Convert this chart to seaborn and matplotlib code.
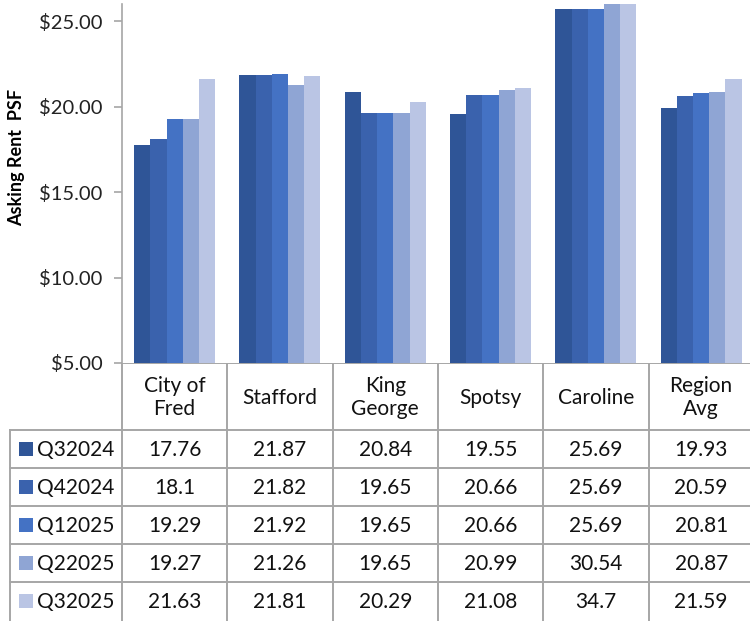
import pandas as pd
import numpy as np
import seaborn as sns
import matplotlib.pyplot as plt
from matplotlib.patches import Rectangle
from matplotlib.ticker import FuncFormatter

# data
areas = ["City of\nFred", "Stafford", "King\nGeorge", "Spotsy", "Caroline", "Region\nAvg"]
quarters = ["Q32024", "Q42024", "Q12025", "Q22025", "Q32025"]
q32024 = [17.76, 21.87, 20.84, 19.55, 25.69, 19.93]
q42024 = [18.1, 21.82, 19.65, 20.66, 25.69, 20.59]
q12025 = [19.29, 21.92, 19.65, 20.66, 25.69, 20.81]
q22025 = [19.27, 21.26, 19.65, 20.99, 30.54, 20.87]
q32025 = [21.63, 21.81, 20.29, 21.08, 34.7, 21.59]
table_text = [["17.76", "21.87", "20.84", "19.55", "25.69", "19.93"],
              ["18.1", "21.82", "19.65", "20.66", "25.69", "20.59"],
              ["19.29", "21.92", "19.65", "20.66", "25.69", "20.81"],
              ["19.27", "21.26", "19.65", "20.99", "30.54", "20.87"],
              ["21.63", "21.81", "20.29", "21.08", "34.7", "21.59"]]

colors = ["#2F5597", "#3A62AD", "#4472C4", "#8FA5D4", "#BAC5E4"]
grid_col = "#A6A6A6"
font = "Lato"
fs = 15

rows = []
for q, vals in zip(quarters, [q32024, q42024, q12025, q22025, q32025]):
    for a, v in zip(areas, vals):
        rows.append({"area": a, "quarter": q, "rent": v})
df = pd.DataFrame(rows)

W, H = 750, 621
fig = plt.figure(figsize=(W / 100, H / 100), dpi=100)

# layout in pixels
ax_l, ax_top, ax_bot = 122, 4, 363
col_w = 105.3
ax_r = ax_l + col_w * len(areas)
row_h = 38
head_bot = 430

ax = fig.add_axes([ax_l / W, 1 - ax_bot / H, (ax_r - ax_l) / W, (ax_bot - ax_top) / H])
sns.barplot(data=df, x="area", y="rent", hue="quarter", hue_order=quarters,
            palette=colors, saturation=1, width=0.77, gap=0, ax=ax,
            legend=False, errorbar=None)
ax.set_ylim(5, 26)
ax.set_xlim(-0.5, len(areas) - 0.5)
ax.set_yticks([5, 10, 15, 20, 25])
ax.yaxis.set_major_formatter(FuncFormatter(lambda v, p: f"${v:.2f}"))
ax.set_xticks([])
ax.set_xlabel("")
ax.set_ylabel("")
for s in ["top", "right", "bottom"]:
    ax.spines[s].set_visible(False)
ax.spines["left"].set_color(grid_col)
ax.spines["left"].set_linewidth(1.2)
ax.tick_params(axis="y", length=6, width=1.2, color=grid_col, pad=8,
               labelsize=14.5, labelcolor="#222222")
for t in ax.get_yticklabels():
    t.set_fontfamily(font)

fig.text(17 / W, 1 - 157 / H, "Asking Rent  PSF", rotation=90, ha="center",
         va="center", fontsize=13, fontweight="bold", family=font)

# data table drawn in pixel coordinates
tab = fig.add_axes([0, 0, 1, 1], zorder=-1)
tab.set_xlim(0, W)
tab.set_ylim(H, 0)
tab.axis("off")

lw = 1.4
tab.plot([ax_l, ax_r], [ax_bot, ax_bot], color=grid_col, lw=lw)
for i in range(len(areas) + 1):
    x = ax_l + i * col_w
    tab.plot([x, x], [ax_bot, H], color=grid_col, lw=lw)
tab.plot([10, 10], [head_bot, H], color=grid_col, lw=lw)
for j in range(len(quarters)):
    y = head_bot + j * row_h
    tab.plot([10, ax_r], [y, y], color=grid_col, lw=lw)

for i, a in enumerate(areas):
    cx = ax_l + (i + 0.5) * col_w
    tab.text(cx, (ax_bot + head_bot) / 2 + 1, a, ha="center", va="center",
             fontsize=fs, family=font, linespacing=1.2, color="#111111")
    for j in range(len(quarters)):
        cy = head_bot + (j + 0.5) * row_h
        tab.text(cx, cy + 1, table_text[j][i], ha="center", va="center",
                 fontsize=fs, family=font, color="#111111")

for j, q in enumerate(quarters):
    cy = head_bot + (j + 0.5) * row_h
    tab.add_patch(Rectangle((19, cy - 7), 14, 14, color=colors[j], lw=0))
    tab.text(37, cy + 1, q, ha="left", va="center", fontsize=fs, family=font,
             color="#111111")

fig.savefig("out.png", dpi=100)
